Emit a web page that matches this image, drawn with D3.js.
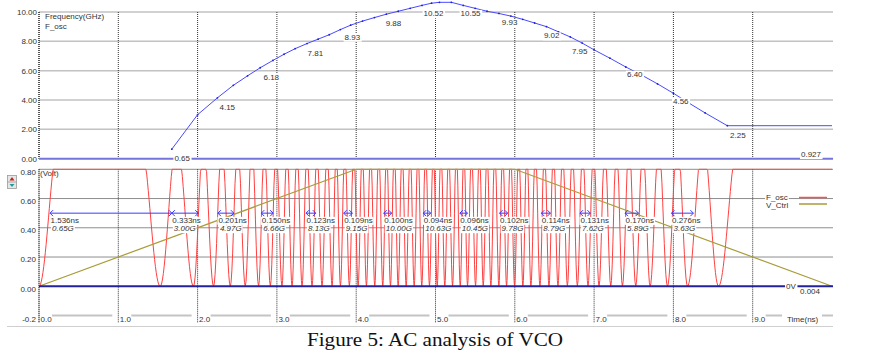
<!DOCTYPE html>
<html lang="en">
<head>
<meta charset="utf-8" />
<script src="https://cdn.jsdelivr.net/npm/d3@7"></script>
<style>
  body { margin: 0; background: #fff; }
  svg text { font-family: "Liberation Sans", Arial, sans-serif; }
  svg text.caption { font-family: "Liberation Serif", "Times New Roman", serif; }
</style>
</head>
<body>
<svg id="chart" width="870" height="353"></svg>
<script>
// values
const timeTicks = [0, 1, 2, 3, 4, 5, 6, 7, 8, 9];
const freqTicks = [0, 2, 4, 6, 8, 10];
const voltTicks = [0, 0.2, 0.4, 0.6, 0.8];

// F_osc frequency (GHz) vs time (ns), top panel
const freqTimes  = [1.675, 2.0, 2.25, 2.45, 2.63, 2.79, 2.95, 3.09, 3.23, 3.38, 3.52, 3.66, 3.80, 3.93,
                    4.08, 4.23, 4.38, 4.53, 4.68, 4.83, 4.95, 5.05, 5.2, 5.35, 5.5, 5.65, 5.8, 5.95,
                    6.1, 6.25, 6.4, 6.55, 6.7, 6.85, 7.0, 7.2, 7.4, 7.6, 7.8, 8.0, 8.2, 8.4, 8.68, 10.0];
const freqValues = [0.65, 3.0, 4.15, 5.0, 5.65, 6.2, 6.7, 7.12, 7.5, 7.85, 8.15, 8.45, 8.8, 9.1,
                    9.38, 9.62, 9.85, 10.05, 10.25, 10.45, 10.6, 10.66, 10.66, 10.45, 10.25, 10.05, 9.9, 9.72,
                    9.5, 9.25, 9.0, 8.65, 8.3, 7.88, 7.42, 6.85, 6.25, 5.7, 5.1, 4.46, 3.78, 3.12, 2.25, 2.25];

const freqLabelTimes  = [1.806, 2.374, 2.929, 3.485, 3.952, 4.470, 4.975, 5.442, 5.934, 6.465, 6.818, 7.513, 8.093, 8.813, 9.735];
const freqLabelValues = [0.65, 4.15, 6.18, 7.81, 8.93, 9.88, 10.52, 10.55, 9.93, 9.02, 7.95, 6.40, 4.56, 2.25, 0.927];
const freqLabelText   = ["0.65", "4.15", "6.18", "7.81", "8.93", "9.88", "10.52", "10.55", "9.93", "9.02", "7.95", "6.40", "4.56", "2.25", "0.927"];

// V_Ctrl (V)
const ctrlTimes = [0, 4, 6, 10];
const ctrlVolts = [0, 0.8, 0.8, 0];

// times (ns) where F_osc touches 0V (it starts at 0V at t=0)
const oscMinima = [0, 1.528, 1.948, 2.201, 2.412, 2.601, 2.769, 2.917, 3.064, 3.191, 3.317, 3.443, 3.569, 3.696,
                   3.801, 3.914, 4.024, 4.129, 4.234, 4.335, 4.432, 4.529, 4.630, 4.731, 4.827, 4.924, 5.021,
                   5.117, 5.215, 5.312, 5.404, 5.505, 5.602, 5.698, 5.799, 5.896, 5.997, 6.102, 6.203, 6.317,
                   6.431, 6.544, 6.663, 6.789, 6.923, 7.062, 7.210, 7.357, 7.525, 7.706, 7.925, 8.178, 8.569];

// period markers
const markerStart  = [0.139, 1.675, 2.256, 2.803, 3.367, 3.842, 4.347, 4.845, 5.307, 5.808, 6.335, 6.822, 7.390, 7.976];
const markerPeriod = [1.536, 0.333, 0.201, 0.150, 0.123, 0.109, 0.100, 0.094, 0.096, 0.102, 0.114, 0.131, 0.170, 0.276];
const markerFreqText = ["0.65G", "3.00G", "4.97G", "6.66G", "8.13G", "9.15G", "10.00G", "10.63G", "10.45G", "9.78G", "8.79G", "7.62G", "5.89G", "3.63G"];

const svg = d3.select("#chart");
const xr = 833;
const x = d3.scaleLinear().domain([0, 10]).range([39, 832]);
const yF = d3.scaleLinear().domain([0, 10]).range([158.7, 12]);
const yV = d3.scaleLinear().domain([-0.2, 0.8]).range([315.5, 169.3]);

const txt = "#333";

// text with a white box behind it
function boxedText(g, px, py, str, anchor, italic) {
  let grp = g.append("g");
  let r = grp.append("rect").attr("fill", "#fff");
  let t = grp.append("text")
    .attr("x", px).attr("y", py)
    .attr("text-anchor", anchor || "start")
    .attr("font-size", 8)
    .attr("fill", txt)
    .text(str);
  if (italic) t.attr("font-style", "italic");
  let b = t.node().getBBox();
  r.attr("x", b.x - 1).attr("y", b.y + 1).attr("width", b.width + 2).attr("height", b.height - 1);
  return grp;
}

// ---------- top panel ----------
let topG = svg.append("g");
topG.selectAll("line.hg").data(freqTicks.filter(d => d > 0)).enter().append("line")
  .attr("x1", x(0)).attr("x2", xr).attr("y1", d => yF(d)).attr("y2", d => yF(d))
  .attr("stroke", "#c2c2c2").attr("stroke-width", 1.5);
topG.selectAll("line.vg").data(timeTicks.filter(d => d > 0)).enter().append("line")
  .attr("x1", d => x(d)).attr("x2", d => x(d)).attr("y1", yF(10)).attr("y2", yF(0))
  .attr("stroke", "#333").attr("stroke-dasharray", "1,1");
topG.append("line").attr("x1", x(0)).attr("x2", x(0)).attr("y1", yF(10)).attr("y2", yF(0))
  .attr("stroke", "#222").attr("stroke-width", 1.5).attr("stroke-dasharray", "1,1");
topG.append("line").attr("x1", x(0)).attr("x2", xr).attr("y1", yF(0)).attr("y2", yF(0))
  .attr("stroke", "#7474dc").attr("stroke-width", 2);

let fpts = freqTimes.map((t, i) => [t, freqValues[i]]);
topG.append("path").datum(fpts)
  .attr("d", d3.line().x(d => x(d[0])).y(d => yF(d[1])))
  .attr("fill", "none").attr("stroke", "#4a4aff").attr("stroke-width", 1);
topG.selectAll("circle").data(fpts.slice(0, -1)).enter().append("circle")
  .attr("cx", d => x(d[0])).attr("cy", d => yF(d[1])).attr("r", 0.9).attr("fill", "#2020d0");

let yAxF = topG.append("g").attr("transform", "translate(39,0)")
  .call(d3.axisLeft(yF).tickValues(freqTicks).tickFormat(d3.format(".2f")).tickSize(0).tickPadding(2));
yAxF.select(".domain").remove();
yAxF.selectAll("text").attr("font-size", 8).attr("fill", txt);

topG.append("text").attr("x", 45).attr("y", 18.5).attr("font-size", 8).attr("fill", txt).text("Frequency(GHz)");
topG.append("text").attr("x", 45).attr("y", 29).attr("font-size", 8).attr("fill", txt).text("F_osc");

freqLabelTimes.forEach((t, i) => {
  boxedText(topG, x(t), yF(freqLabelValues[i]) + 12, freqLabelText[i], "middle");
});

// ---------- bottom panel ----------
let bot = svg.append("g");
bot.selectAll("line.hg").data(voltTicks.filter(d => d > 0)).enter().append("line")
  .attr("x1", x(0)).attr("x2", xr).attr("y1", d => yV(d)).attr("y2", d => yV(d))
  .attr("stroke", "#8e8e8e").attr("stroke-width", 1);

// x axis row
bot.append("line").attr("x1", 39).attr("x2", xr).attr("y1", yV(-0.2)).attr("y2", yV(-0.2))
  .attr("stroke", "#c4c4c4").attr("stroke-width", 2);
bot.append("line").attr("x1", 7).attr("x2", xr).attr("y1", 326.5).attr("y2", 326.5)
  .attr("stroke", "#cfcfcf").attr("stroke-width", 1);
timeTicks.forEach(t => {
  bot.append("rect").attr("x", x(t) - 6).attr("y", 312.5).attr("width", 19).attr("height", 6).attr("fill", "#fff");
});
let xAx = bot.append("g").attr("transform", "translate(0," + yV(-0.2) + ")")
  .call(d3.axisBottom(x).tickValues(timeTicks).tickFormat(d3.format(".1f")).tickSize(0));
xAx.select(".domain").remove();
xAx.selectAll("text").attr("text-anchor", "start").attr("x", 1).attr("y", 0).attr("dy", "0.85em")
  .attr("font-size", 8).attr("fill", txt);
bot.append("rect").attr("x", 782).attr("y", 312.5).attr("width", 40).attr("height", 6).attr("fill", "#fff");
bot.append("text").attr("x", 787).attr("y", yV(-0.2) + 6.8).attr("font-size", 8).attr("fill", txt).text("Time(ns)");
bot.append("text").attr("x", 36).attr("y", yV(-0.2) + 6.8).attr("text-anchor", "end")
  .attr("font-size", 8).attr("fill", txt).text("-0.2");

bot.selectAll("line.vg").data(timeTicks.filter(d => d > 0)).enter().append("line")
  .attr("x1", d => x(d)).attr("x2", d => x(d)).attr("y1", yV(0.8)).attr("y2", 323)
  .attr("stroke", "#333").attr("stroke-dasharray", "1,1");
bot.append("line").attr("x1", x(0)).attr("x2", x(0)).attr("y1", yV(0.8)).attr("y2", 323)
  .attr("stroke", "#222").attr("stroke-width", 1.5).attr("stroke-dasharray", "1,1");

let yAxV = bot.append("g").attr("transform", "translate(39,0)")
  .call(d3.axisLeft(yV).tickValues(voltTicks).tickFormat(d3.format(".2f")).tickSize(0).tickPadding(3));
yAxV.select(".domain").remove();
yAxV.selectAll("text").attr("font-size", 8).attr("fill", txt).attr("dy", "0.6em");
bot.append("text").attr("x", 40).attr("y", 175.5).attr("font-size", 8).attr("fill", txt).text("(Volt)");

// little up/down control
bot.append("rect").attr("x", 7.5).attr("y", 175.5).attr("width", 9).attr("height", 13)
  .attr("fill", "#e6e6e6").attr("stroke", "#999").attr("stroke-width", 0.8);
bot.append("line").attr("x1", 7.5).attr("x2", 16.5).attr("y1", 182).attr("y2", 182).attr("stroke", "#999").attr("stroke-width", 0.8);
bot.append("path").attr("d", "M9.5,180.5L12,177L14.5,180.5Z").attr("fill", "#c02020");
bot.append("path").attr("d", "M9.5,184L14.5,184L12,187Z").attr("fill", "#209a9a");

// F_osc waveform, drawn cycle by cycle between the 0V touches, clipped at the top of the panel
let oscPts = [];
oscMinima.forEach((a, i) => {
  let last = i === oscMinima.length - 1;
  let b = last ? 10 : oscMinima[i + 1];
  let L = b - a;
  let h = last ? 0.25 : Math.min(L / 2, 0.25);
  let n = Math.max(16, Math.ceil(L / 0.01));
  for (let k = 0; k < n; k++) {
    let t = a + L * k / n;
    let u = last ? t - a : Math.min(t - a, b - t);
    let s = Math.sin(Math.PI / 2 * Math.min(u / h, 1));
    oscPts.push([t, Math.min(0.8, s * s)]);
  }
});
oscPts.push([10, 0.8]);
bot.append("path").datum(oscPts)
  .attr("d", d3.line().x(d => x(d[0])).y(d => yV(d[1])))
  .attr("fill", "none").attr("stroke", "#ff4040").attr("stroke-width", 1);

bot.append("path").datum(ctrlTimes.map((t, i) => [t, ctrlVolts[i]]))
  .attr("d", d3.line().x(d => x(d[0])).y(d => yV(d[1])))
  .attr("fill", "none").attr("stroke", "#a89c38").attr("stroke-width", 1.2);

bot.append("line").attr("x1", x(0)).attr("x2", xr).attr("y1", yV(0)).attr("y2", yV(0))
  .attr("stroke", "#2222a0").attr("stroke-width", 2);
boxedText(bot, 786, yV(0) + 3, "0V");
boxedText(bot, 800, yV(0) + 8, "0.004");

// period markers
const ya = yV(0.5);
markerStart.forEach((s, i) => {
  let x0 = x(s), x1 = x(s + markerPeriod[i]);
  let g = bot.append("g").attr("stroke", "#3a3aff").attr("fill", "none").attr("stroke-width", 1);
  g.append("line").attr("x1", x0).attr("x2", x1).attr("y1", ya).attr("y2", ya);
  g.append("path").attr("d", `M${x0 + 3},${ya - 3}L${x0},${ya}L${x0 + 3},${ya + 3}`);
  g.append("path").attr("d", `M${x1 - 3},${ya - 3}L${x1},${ya}L${x1 - 3},${ya + 3}`);
  boxedText(bot, x0 + 0.5, ya + 9.7, d3.format(".3f")(markerPeriod[i]) + "ns");
  boxedText(bot, x0 + 2, ya + 18, markerFreqText[i], "start", true);
});

// legend
boxedText(bot, 766, 200, "F_osc");
boxedText(bot, 766, 208, "V_Ctrl");
bot.append("line").attr("x1", 799).attr("x2", 827).attr("y1", 197.5).attr("y2", 197.5)
  .attr("stroke", "#ff5050").attr("stroke-width", 1.5);
bot.append("line").attr("x1", 799).attr("x2", 827).attr("y1", 204).attr("y2", 204)
  .attr("stroke", "#a89c38").attr("stroke-width", 1.5);

// caption
svg.append("text").attr("class", "caption").attr("x", 307).attr("y", 346)
  .attr("font-size", 19.5).attr("fill", "#111")
  .attr("textLength", 256).attr("lengthAdjust", "spacingAndGlyphs")
  .text("Figure 5: AC analysis of VCO");
</script>
</body>
</html>
